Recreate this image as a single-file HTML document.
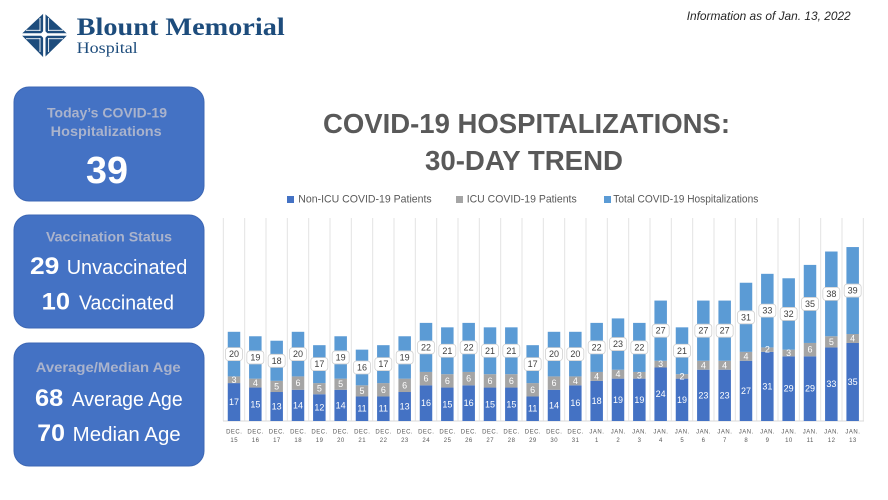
<!DOCTYPE html>
<html>
<head>
<meta charset="utf-8">
<style>
html,body{margin:0;padding:0;background:#fff;}
svg{display:block;}
</style>
</head>
<body>
<svg width="888" height="500" viewBox="0 0 888 500" xmlns="http://www.w3.org/2000/svg" font-family="'Liberation Sans', sans-serif">
<rect width="888" height="500" fill="#fff"/>

<!-- Logo -->
<g>
  <polygon points="44,13 68,34.5 44,58 21,34.5" fill="#1d4c7c"/>
  <g stroke="#fff" fill="none">
    <line x1="44.3" y1="12" x2="44.3" y2="59" stroke-width="2.4"/>
    <line x1="20" y1="34.5" x2="69" y2="34.5" stroke-width="2.4"/>
    <line x1="40" y1="18" x2="40" y2="31" stroke-width="0.9"/>
    <line x1="48.6" y1="18" x2="48.6" y2="31" stroke-width="0.9"/>
    <line x1="40" y1="38" x2="40" y2="52" stroke-width="0.9"/>
    <line x1="48.6" y1="38" x2="48.6" y2="52" stroke-width="0.9"/>
    <line x1="26" y1="30.3" x2="40.5" y2="30.3" stroke-width="0.9"/>
    <line x1="48" y1="30.3" x2="63" y2="30.3" stroke-width="0.9"/>
    <line x1="26" y1="38.7" x2="40.5" y2="38.7" stroke-width="0.9"/>
    <line x1="48" y1="38.7" x2="63" y2="38.7" stroke-width="0.9"/>
  </g>
  <polygon points="44.3,30 48.5,34.5 44.3,39 40,34.5" fill="#fff"/>
  <text x="76.7" y="35" font-family="'Liberation Serif', serif" font-weight="bold" font-size="25" fill="#1d4c7c" textLength="208" lengthAdjust="spacingAndGlyphs">Blount Memorial</text>
  <text x="76.7" y="53" font-family="'Liberation Serif', serif" font-size="16" fill="#1d4c7c" textLength="61" lengthAdjust="spacingAndGlyphs">Hospital</text>
</g>

<!-- Info text -->
<text x="686.7" y="20" font-size="12" font-style="italic" fill="#262626" textLength="164" lengthAdjust="spacingAndGlyphs">Information as of Jan. 13, 2022</text>

<!-- Left panels -->
<rect x="14" y="87" width="190" height="114" rx="15" fill="#4472C4" stroke="#3d67b4" stroke-width="1"/>
<text x="47" y="117.5" font-size="14" font-weight="bold" fill="#aab3cc" textLength="120" lengthAdjust="spacingAndGlyphs">Today’s COVID-19</text>
<text x="50.7" y="136" font-size="14" font-weight="bold" fill="#aab3cc" textLength="111" lengthAdjust="spacingAndGlyphs">Hospitalizations</text>
<text x="86" y="183" font-size="38" font-weight="bold" fill="#fff" textLength="42" lengthAdjust="spacingAndGlyphs">39</text>

<rect x="14" y="215" width="190" height="113" rx="15" fill="#4472C4" stroke="#3d67b4" stroke-width="1"/>
<text x="46" y="241.7" font-size="14" font-weight="bold" fill="#aab3cc" textLength="126" lengthAdjust="spacingAndGlyphs">Vaccination Status</text>
<text x="30" y="274" font-size="24" font-weight="bold" fill="#fff" textLength="29.3" lengthAdjust="spacingAndGlyphs">29</text>
<text x="66.7" y="274" font-size="20" fill="#fff" textLength="120.6" lengthAdjust="spacingAndGlyphs">Unvaccinated</text>
<text x="41.7" y="309.3" font-size="24" font-weight="bold" fill="#fff" textLength="28.3" lengthAdjust="spacingAndGlyphs">10</text>
<text x="79" y="309.3" font-size="20" fill="#fff" textLength="95" lengthAdjust="spacingAndGlyphs">Vaccinated</text>

<rect x="14" y="343" width="190" height="123" rx="15" fill="#4472C4" stroke="#3d67b4" stroke-width="1"/>
<text x="35.7" y="372" font-size="14" font-weight="bold" fill="#aab3cc" textLength="145" lengthAdjust="spacingAndGlyphs">Average/Median Age</text>
<text x="35" y="406" font-size="24" font-weight="bold" fill="#fff" textLength="28.3" lengthAdjust="spacingAndGlyphs">68</text>
<text x="71.7" y="406" font-size="20" fill="#fff" textLength="111" lengthAdjust="spacingAndGlyphs">Average Age</text>
<text x="37.3" y="441" font-size="24" font-weight="bold" fill="#fff" textLength="27.7" lengthAdjust="spacingAndGlyphs">70</text>
<text x="72.7" y="441" font-size="20" fill="#fff" textLength="108" lengthAdjust="spacingAndGlyphs">Median Age</text>

<!-- Title -->
<text x="323" y="133" font-size="28" font-weight="bold" fill="#595959" textLength="407" lengthAdjust="spacingAndGlyphs">COVID-19 HOSPITALIZATIONS:</text>
<text x="425" y="170" font-size="28" font-weight="bold" fill="#595959" textLength="198" lengthAdjust="spacingAndGlyphs">30-DAY TREND</text>

<!-- Legend -->
<rect x="287" y="196" width="7" height="7" fill="#4472C4"/>
<text x="298.3" y="202.5" font-size="11" fill="#595959" textLength="133.4" lengthAdjust="spacingAndGlyphs">Non-ICU COVID-19 Patients</text>
<rect x="456" y="196" width="7" height="7" fill="#A5A5A5"/>
<text x="466.7" y="202.5" font-size="11" fill="#595959" textLength="110" lengthAdjust="spacingAndGlyphs">ICU COVID-19 Patients</text>
<rect x="604" y="196" width="7" height="7" fill="#5B9BD5"/>
<text x="613.3" y="202.5" font-size="11" fill="#595959" textLength="145" lengthAdjust="spacingAndGlyphs">Total COVID-19 Hospitalizations</text>

<!-- Gridlines -->
<g stroke="#e3e3e3" stroke-width="1">
<line x1="223.3" y1="218" x2="223.3" y2="421"/><line x1="244.7" y1="218" x2="244.7" y2="421"/><line x1="266" y1="218" x2="266" y2="421"/><line x1="287.3" y1="218" x2="287.3" y2="421"/><line x1="308.7" y1="218" x2="308.7" y2="421"/><line x1="330" y1="218" x2="330" y2="421"/><line x1="351.3" y1="218" x2="351.3" y2="421"/><line x1="372.7" y1="218" x2="372.7" y2="421"/><line x1="394" y1="218" x2="394" y2="421"/><line x1="415.3" y1="218" x2="415.3" y2="421"/><line x1="436.7" y1="218" x2="436.7" y2="421"/><line x1="458" y1="218" x2="458" y2="421"/><line x1="479.3" y1="218" x2="479.3" y2="421"/><line x1="500.7" y1="218" x2="500.7" y2="421"/><line x1="522" y1="218" x2="522" y2="421"/><line x1="543.3" y1="218" x2="543.3" y2="421"/><line x1="564.7" y1="218" x2="564.7" y2="421"/><line x1="586" y1="218" x2="586" y2="421"/><line x1="607.3" y1="218" x2="607.3" y2="421"/><line x1="628.7" y1="218" x2="628.7" y2="421"/><line x1="650" y1="218" x2="650" y2="421"/><line x1="671.3" y1="218" x2="671.3" y2="421"/><line x1="692.7" y1="218" x2="692.7" y2="421"/><line x1="714" y1="218" x2="714" y2="421"/><line x1="735.3" y1="218" x2="735.3" y2="421"/><line x1="756.7" y1="218" x2="756.7" y2="421"/><line x1="778" y1="218" x2="778" y2="421"/><line x1="799.3" y1="218" x2="799.3" y2="421"/><line x1="820.7" y1="218" x2="820.7" y2="421"/><line x1="842" y1="218" x2="842" y2="421"/><line x1="863.3" y1="218" x2="863.3" y2="421"/>
<line x1="223" y1="421" x2="864" y2="421" stroke="#d9d9d9"/>
</g>

<!-- Bars -->
<g font-size="9" text-anchor="middle" dominant-baseline="central">

<g transform="translate(234,0)">
<rect x="-6.25" y="383.09" width="12.5" height="37.91" fill="#4472C4"/><rect x="-6.25" y="376.4" width="12.5" height="6.69" fill="#A5A5A5"/><rect x="-6.25" y="331.8" width="12.5" height="44.6" fill="#5B9BD5"/>
<text y="402.05" fill="#fff">17</text><text y="379.75" fill="#fff">3</text>
<rect x="-8.5" y="347.6" width="17" height="13" rx="3" fill="#fff" stroke="#d0d0d0" stroke-width="0.8"/><text y="354.1" fill="#404040">20</text></g>

<g transform="translate(255.33,0)">
<rect x="-6.25" y="387.55" width="12.5" height="33.45" fill="#4472C4"/><rect x="-6.25" y="378.63" width="12.5" height="8.92" fill="#A5A5A5"/><rect x="-6.25" y="336.26" width="12.5" height="42.37" fill="#5B9BD5"/>
<text y="404.28" fill="#fff">15</text><text y="383.09" fill="#fff">4</text>
<rect x="-8.5" y="350.94" width="17" height="13" rx="3" fill="#fff" stroke="#d0d0d0" stroke-width="0.8"/><text y="357.44" fill="#404040">19</text></g>

<g transform="translate(276.67,0)">
<rect x="-6.25" y="392.01" width="12.5" height="28.99" fill="#4472C4"/><rect x="-6.25" y="380.86" width="12.5" height="11.15" fill="#A5A5A5"/><rect x="-6.25" y="340.72" width="12.5" height="40.14" fill="#5B9BD5"/>
<text y="406.5" fill="#fff">13</text><text y="386.43" fill="#fff">5</text>
<rect x="-8.5" y="354.29" width="17" height="13" rx="3" fill="#fff" stroke="#d0d0d0" stroke-width="0.8"/><text y="360.79" fill="#404040">18</text></g>

<g transform="translate(298,0)">
<rect x="-6.25" y="389.78" width="12.5" height="31.22" fill="#4472C4"/><rect x="-6.25" y="376.4" width="12.5" height="13.38" fill="#A5A5A5"/><rect x="-6.25" y="331.8" width="12.5" height="44.6" fill="#5B9BD5"/>
<text y="405.39" fill="#fff">14</text><text y="383.09" fill="#fff">6</text>
<rect x="-8.5" y="347.6" width="17" height="13" rx="3" fill="#fff" stroke="#d0d0d0" stroke-width="0.8"/><text y="354.1" fill="#404040">20</text></g>

<g transform="translate(319.33,0)">
<rect x="-6.25" y="394.24" width="12.5" height="26.76" fill="#4472C4"/><rect x="-6.25" y="383.09" width="12.5" height="11.15" fill="#A5A5A5"/><rect x="-6.25" y="345.18" width="12.5" height="37.91" fill="#5B9BD5"/>
<text y="407.62" fill="#fff">12</text><text y="388.66" fill="#fff">5</text>
<rect x="-8.5" y="357.63" width="17" height="13" rx="3" fill="#fff" stroke="#d0d0d0" stroke-width="0.8"/><text y="364.13" fill="#404040">17</text></g>

<g transform="translate(340.67,0)">
<rect x="-6.25" y="389.78" width="12.5" height="31.22" fill="#4472C4"/><rect x="-6.25" y="378.63" width="12.5" height="11.15" fill="#A5A5A5"/><rect x="-6.25" y="336.26" width="12.5" height="42.37" fill="#5B9BD5"/>
<text y="405.39" fill="#fff">14</text><text y="384.2" fill="#fff">5</text>
<rect x="-8.5" y="350.94" width="17" height="13" rx="3" fill="#fff" stroke="#d0d0d0" stroke-width="0.8"/><text y="357.44" fill="#404040">19</text></g>

<g transform="translate(362,0)">
<rect x="-6.25" y="396.47" width="12.5" height="24.53" fill="#4472C4"/><rect x="-6.25" y="385.32" width="12.5" height="11.15" fill="#A5A5A5"/><rect x="-6.25" y="349.64" width="12.5" height="35.68" fill="#5B9BD5"/>
<text y="408.74" fill="#fff">11</text><text y="390.89" fill="#fff">5</text>
<rect x="-8.5" y="360.98" width="17" height="13" rx="3" fill="#fff" stroke="#d0d0d0" stroke-width="0.8"/><text y="367.48" fill="#404040">16</text></g>

<g transform="translate(383.33,0)">
<rect x="-6.25" y="396.47" width="12.5" height="24.53" fill="#4472C4"/><rect x="-6.25" y="383.09" width="12.5" height="13.38" fill="#A5A5A5"/><rect x="-6.25" y="345.18" width="12.5" height="37.91" fill="#5B9BD5"/>
<text y="408.74" fill="#fff">11</text><text y="389.78" fill="#fff">6</text>
<rect x="-8.5" y="357.63" width="17" height="13" rx="3" fill="#fff" stroke="#d0d0d0" stroke-width="0.8"/><text y="364.13" fill="#404040">17</text></g>

<g transform="translate(404.67,0)">
<rect x="-6.25" y="392.01" width="12.5" height="28.99" fill="#4472C4"/><rect x="-6.25" y="378.63" width="12.5" height="13.38" fill="#A5A5A5"/><rect x="-6.25" y="336.26" width="12.5" height="42.37" fill="#5B9BD5"/>
<text y="406.5" fill="#fff">13</text><text y="385.32" fill="#fff">6</text>
<rect x="-8.5" y="350.94" width="17" height="13" rx="3" fill="#fff" stroke="#d0d0d0" stroke-width="0.8"/><text y="357.44" fill="#404040">19</text></g>

<g transform="translate(426,0)">
<rect x="-6.25" y="385.32" width="12.5" height="35.68" fill="#4472C4"/><rect x="-6.25" y="371.94" width="12.5" height="13.38" fill="#A5A5A5"/><rect x="-6.25" y="322.88" width="12.5" height="49.06" fill="#5B9BD5"/>
<text y="403.16" fill="#fff">16</text><text y="378.63" fill="#fff">6</text>
<rect x="-8.5" y="340.91" width="17" height="13" rx="3" fill="#fff" stroke="#d0d0d0" stroke-width="0.8"/><text y="347.41" fill="#404040">22</text></g>

<g transform="translate(447.33,0)">
<rect x="-6.25" y="387.55" width="12.5" height="33.45" fill="#4472C4"/><rect x="-6.25" y="374.17" width="12.5" height="13.38" fill="#A5A5A5"/><rect x="-6.25" y="327.34" width="12.5" height="46.83" fill="#5B9BD5"/>
<text y="404.28" fill="#fff">15</text><text y="380.86" fill="#fff">6</text>
<rect x="-8.5" y="344.25" width="17" height="13" rx="3" fill="#fff" stroke="#d0d0d0" stroke-width="0.8"/><text y="350.75" fill="#404040">21</text></g>

<g transform="translate(468.67,0)">
<rect x="-6.25" y="385.32" width="12.5" height="35.68" fill="#4472C4"/><rect x="-6.25" y="371.94" width="12.5" height="13.38" fill="#A5A5A5"/><rect x="-6.25" y="322.88" width="12.5" height="49.06" fill="#5B9BD5"/>
<text y="403.16" fill="#fff">16</text><text y="378.63" fill="#fff">6</text>
<rect x="-8.5" y="340.91" width="17" height="13" rx="3" fill="#fff" stroke="#d0d0d0" stroke-width="0.8"/><text y="347.41" fill="#404040">22</text></g>

<g transform="translate(490,0)">
<rect x="-6.25" y="387.55" width="12.5" height="33.45" fill="#4472C4"/><rect x="-6.25" y="374.17" width="12.5" height="13.38" fill="#A5A5A5"/><rect x="-6.25" y="327.34" width="12.5" height="46.83" fill="#5B9BD5"/>
<text y="404.28" fill="#fff">15</text><text y="380.86" fill="#fff">6</text>
<rect x="-8.5" y="344.25" width="17" height="13" rx="3" fill="#fff" stroke="#d0d0d0" stroke-width="0.8"/><text y="350.75" fill="#404040">21</text></g>

<g transform="translate(511.33,0)">
<rect x="-6.25" y="387.55" width="12.5" height="33.45" fill="#4472C4"/><rect x="-6.25" y="374.17" width="12.5" height="13.38" fill="#A5A5A5"/><rect x="-6.25" y="327.34" width="12.5" height="46.83" fill="#5B9BD5"/>
<text y="404.28" fill="#fff">15</text><text y="380.86" fill="#fff">6</text>
<rect x="-8.5" y="344.25" width="17" height="13" rx="3" fill="#fff" stroke="#d0d0d0" stroke-width="0.8"/><text y="350.75" fill="#404040">21</text></g>

<g transform="translate(532.67,0)">
<rect x="-6.25" y="396.47" width="12.5" height="24.53" fill="#4472C4"/><rect x="-6.25" y="383.09" width="12.5" height="13.38" fill="#A5A5A5"/><rect x="-6.25" y="345.18" width="12.5" height="37.91" fill="#5B9BD5"/>
<text y="408.74" fill="#fff">11</text><text y="389.78" fill="#fff">6</text>
<rect x="-8.5" y="357.63" width="17" height="13" rx="3" fill="#fff" stroke="#d0d0d0" stroke-width="0.8"/><text y="364.13" fill="#404040">17</text></g>

<g transform="translate(554,0)">
<rect x="-6.25" y="389.78" width="12.5" height="31.22" fill="#4472C4"/><rect x="-6.25" y="376.4" width="12.5" height="13.38" fill="#A5A5A5"/><rect x="-6.25" y="331.8" width="12.5" height="44.6" fill="#5B9BD5"/>
<text y="405.39" fill="#fff">14</text><text y="383.09" fill="#fff">6</text>
<rect x="-8.5" y="347.6" width="17" height="13" rx="3" fill="#fff" stroke="#d0d0d0" stroke-width="0.8"/><text y="354.1" fill="#404040">20</text></g>

<g transform="translate(575.33,0)">
<rect x="-6.25" y="385.32" width="12.5" height="35.68" fill="#4472C4"/><rect x="-6.25" y="376.4" width="12.5" height="8.92" fill="#A5A5A5"/><rect x="-6.25" y="331.8" width="12.5" height="44.6" fill="#5B9BD5"/>
<text y="403.16" fill="#fff">16</text><text y="380.86" fill="#fff">4</text>
<rect x="-8.5" y="347.6" width="17" height="13" rx="3" fill="#fff" stroke="#d0d0d0" stroke-width="0.8"/><text y="354.1" fill="#404040">20</text></g>

<g transform="translate(596.67,0)">
<rect x="-6.25" y="380.86" width="12.5" height="40.14" fill="#4472C4"/><rect x="-6.25" y="371.94" width="12.5" height="8.92" fill="#A5A5A5"/><rect x="-6.25" y="322.88" width="12.5" height="49.06" fill="#5B9BD5"/>
<text y="400.93" fill="#fff">18</text><text y="376.4" fill="#fff">4</text>
<rect x="-8.5" y="340.91" width="17" height="13" rx="3" fill="#fff" stroke="#d0d0d0" stroke-width="0.8"/><text y="347.41" fill="#404040">22</text></g>

<g transform="translate(618,0)">
<rect x="-6.25" y="378.63" width="12.5" height="42.37" fill="#4472C4"/><rect x="-6.25" y="369.71" width="12.5" height="8.92" fill="#A5A5A5"/><rect x="-6.25" y="318.42" width="12.5" height="51.29" fill="#5B9BD5"/>
<text y="399.82" fill="#fff">19</text><text y="374.17" fill="#fff">4</text>
<rect x="-8.5" y="337.56" width="17" height="13" rx="3" fill="#fff" stroke="#d0d0d0" stroke-width="0.8"/><text y="344.06" fill="#404040">23</text></g>

<g transform="translate(639.33,0)">
<rect x="-6.25" y="378.63" width="12.5" height="42.37" fill="#4472C4"/><rect x="-6.25" y="371.94" width="12.5" height="6.69" fill="#A5A5A5"/><rect x="-6.25" y="322.88" width="12.5" height="49.06" fill="#5B9BD5"/>
<text y="399.82" fill="#fff">19</text><text y="375.28" fill="#fff">3</text>
<rect x="-8.5" y="340.91" width="17" height="13" rx="3" fill="#fff" stroke="#d0d0d0" stroke-width="0.8"/><text y="347.41" fill="#404040">22</text></g>

<g transform="translate(660.67,0)">
<rect x="-6.25" y="367.48" width="12.5" height="53.52" fill="#4472C4"/><rect x="-6.25" y="360.79" width="12.5" height="6.69" fill="#A5A5A5"/><rect x="-6.25" y="300.58" width="12.5" height="60.21" fill="#5B9BD5"/>
<text y="394.24" fill="#fff">24</text><text y="364.13" fill="#fff">3</text>
<rect x="-8.5" y="324.18" width="17" height="13" rx="3" fill="#fff" stroke="#d0d0d0" stroke-width="0.8"/><text y="330.68" fill="#404040">27</text></g>

<g transform="translate(682,0)">
<rect x="-6.25" y="378.63" width="12.5" height="42.37" fill="#4472C4"/><rect x="-6.25" y="374.17" width="12.5" height="4.46" fill="#A5A5A5"/><rect x="-6.25" y="327.34" width="12.5" height="46.83" fill="#5B9BD5"/>
<text y="399.82" fill="#fff">19</text><text y="376.4" fill="#fff">2</text>
<rect x="-8.5" y="344.25" width="17" height="13" rx="3" fill="#fff" stroke="#d0d0d0" stroke-width="0.8"/><text y="350.75" fill="#404040">21</text></g>

<g transform="translate(703.33,0)">
<rect x="-6.25" y="369.71" width="12.5" height="51.29" fill="#4472C4"/><rect x="-6.25" y="360.79" width="12.5" height="8.92" fill="#A5A5A5"/><rect x="-6.25" y="300.58" width="12.5" height="60.21" fill="#5B9BD5"/>
<text y="395.36" fill="#fff">23</text><text y="365.25" fill="#fff">4</text>
<rect x="-8.5" y="324.18" width="17" height="13" rx="3" fill="#fff" stroke="#d0d0d0" stroke-width="0.8"/><text y="330.68" fill="#404040">27</text></g>

<g transform="translate(724.67,0)">
<rect x="-6.25" y="369.71" width="12.5" height="51.29" fill="#4472C4"/><rect x="-6.25" y="360.79" width="12.5" height="8.92" fill="#A5A5A5"/><rect x="-6.25" y="300.58" width="12.5" height="60.21" fill="#5B9BD5"/>
<text y="395.36" fill="#fff">23</text><text y="365.25" fill="#fff">4</text>
<rect x="-8.5" y="324.18" width="17" height="13" rx="3" fill="#fff" stroke="#d0d0d0" stroke-width="0.8"/><text y="330.68" fill="#404040">27</text></g>

<g transform="translate(746,0)">
<rect x="-6.25" y="360.79" width="12.5" height="60.21" fill="#4472C4"/><rect x="-6.25" y="351.87" width="12.5" height="8.92" fill="#A5A5A5"/><rect x="-6.25" y="282.74" width="12.5" height="69.13" fill="#5B9BD5"/>
<text y="390.9" fill="#fff">27</text><text y="356.33" fill="#fff">4</text>
<rect x="-8.5" y="310.8" width="17" height="13" rx="3" fill="#fff" stroke="#d0d0d0" stroke-width="0.8"/><text y="317.3" fill="#404040">31</text></g>

<g transform="translate(767.33,0)">
<rect x="-6.25" y="351.87" width="12.5" height="69.13" fill="#4472C4"/><rect x="-6.25" y="347.41" width="12.5" height="4.46" fill="#A5A5A5"/><rect x="-6.25" y="273.82" width="12.5" height="73.59" fill="#5B9BD5"/>
<text y="386.44" fill="#fff">31</text><text y="349.64" fill="#fff">2</text>
<rect x="-8.5" y="304.11" width="17" height="13" rx="3" fill="#fff" stroke="#d0d0d0" stroke-width="0.8"/><text y="310.61" fill="#404040">33</text></g>

<g transform="translate(788.67,0)">
<rect x="-6.25" y="356.33" width="12.5" height="64.67" fill="#4472C4"/><rect x="-6.25" y="349.64" width="12.5" height="6.69" fill="#A5A5A5"/><rect x="-6.25" y="278.28" width="12.5" height="71.36" fill="#5B9BD5"/>
<text y="388.67" fill="#fff">29</text><text y="352.98" fill="#fff">3</text>
<rect x="-8.5" y="307.46" width="17" height="13" rx="3" fill="#fff" stroke="#d0d0d0" stroke-width="0.8"/><text y="313.96" fill="#404040">32</text></g>

<g transform="translate(810,0)">
<rect x="-6.25" y="356.33" width="12.5" height="64.67" fill="#4472C4"/><rect x="-6.25" y="342.95" width="12.5" height="13.38" fill="#A5A5A5"/><rect x="-6.25" y="264.9" width="12.5" height="78.05" fill="#5B9BD5"/>
<text y="388.67" fill="#fff">29</text><text y="349.64" fill="#fff">6</text>
<rect x="-8.5" y="297.42" width="17" height="13" rx="3" fill="#fff" stroke="#d0d0d0" stroke-width="0.8"/><text y="303.92" fill="#404040">35</text></g>

<g transform="translate(831.33,0)">
<rect x="-6.25" y="347.41" width="12.5" height="73.59" fill="#4472C4"/><rect x="-6.25" y="336.26" width="12.5" height="11.15" fill="#A5A5A5"/><rect x="-6.25" y="251.52" width="12.5" height="84.74" fill="#5B9BD5"/>
<text y="384.21" fill="#fff">33</text><text y="341.83" fill="#fff">5</text>
<rect x="-8.5" y="287.39" width="17" height="13" rx="3" fill="#fff" stroke="#d0d0d0" stroke-width="0.8"/><text y="293.89" fill="#404040">38</text></g>

<g transform="translate(852.67,0)">
<rect x="-6.25" y="342.95" width="12.5" height="78.05" fill="#4472C4"/><rect x="-6.25" y="334.03" width="12.5" height="8.92" fill="#A5A5A5"/><rect x="-6.25" y="247.06" width="12.5" height="86.97" fill="#5B9BD5"/>
<text y="382.03" fill="#fff">35</text><text y="338.49" fill="#fff">4</text>
<rect x="-8.5" y="284.04" width="17" height="13" rx="3" fill="#fff" stroke="#d0d0d0" stroke-width="0.8"/><text y="290.54" fill="#404040">39</text></g>
</g>

<!-- X axis labels -->
<g font-size="6" fill="#595959" text-anchor="middle" letter-spacing="0.5">
<g transform="translate(234.25,0)"><text y="433.5">DEC.</text><text y="442">15</text></g>
<g transform="translate(255.58,0)"><text y="433.5">DEC.</text><text y="442">16</text></g>
<g transform="translate(276.92,0)"><text y="433.5">DEC.</text><text y="442">17</text></g>
<g transform="translate(298.25,0)"><text y="433.5">DEC.</text><text y="442">18</text></g>
<g transform="translate(319.58,0)"><text y="433.5">DEC.</text><text y="442">19</text></g>
<g transform="translate(340.92,0)"><text y="433.5">DEC.</text><text y="442">20</text></g>
<g transform="translate(362.25,0)"><text y="433.5">DEC.</text><text y="442">21</text></g>
<g transform="translate(383.58,0)"><text y="433.5">DEC.</text><text y="442">22</text></g>
<g transform="translate(404.92,0)"><text y="433.5">DEC.</text><text y="442">23</text></g>
<g transform="translate(426.25,0)"><text y="433.5">DEC.</text><text y="442">24</text></g>
<g transform="translate(447.58,0)"><text y="433.5">DEC.</text><text y="442">25</text></g>
<g transform="translate(468.92,0)"><text y="433.5">DEC.</text><text y="442">26</text></g>
<g transform="translate(490.25,0)"><text y="433.5">DEC.</text><text y="442">27</text></g>
<g transform="translate(511.58,0)"><text y="433.5">DEC.</text><text y="442">28</text></g>
<g transform="translate(532.92,0)"><text y="433.5">DEC.</text><text y="442">29</text></g>
<g transform="translate(554.25,0)"><text y="433.5">DEC.</text><text y="442">30</text></g>
<g transform="translate(575.58,0)"><text y="433.5">DEC.</text><text y="442">31</text></g>
<g transform="translate(596.92,0)"><text y="433.5">JAN.</text><text y="442">1</text></g>
<g transform="translate(618.25,0)"><text y="433.5">JAN.</text><text y="442">2</text></g>
<g transform="translate(639.58,0)"><text y="433.5">JAN.</text><text y="442">3</text></g>
<g transform="translate(660.92,0)"><text y="433.5">JAN.</text><text y="442">4</text></g>
<g transform="translate(682.25,0)"><text y="433.5">JAN.</text><text y="442">5</text></g>
<g transform="translate(703.58,0)"><text y="433.5">JAN.</text><text y="442">6</text></g>
<g transform="translate(724.92,0)"><text y="433.5">JAN.</text><text y="442">7</text></g>
<g transform="translate(746.25,0)"><text y="433.5">JAN.</text><text y="442">8</text></g>
<g transform="translate(767.58,0)"><text y="433.5">JAN.</text><text y="442">9</text></g>
<g transform="translate(788.92,0)"><text y="433.5">JAN.</text><text y="442">10</text></g>
<g transform="translate(810.25,0)"><text y="433.5">JAN.</text><text y="442">11</text></g>
<g transform="translate(831.58,0)"><text y="433.5">JAN.</text><text y="442">12</text></g>
<g transform="translate(852.92,0)"><text y="433.5">JAN.</text><text y="442">13</text></g>
</g>
</svg>
</body>
</html>
